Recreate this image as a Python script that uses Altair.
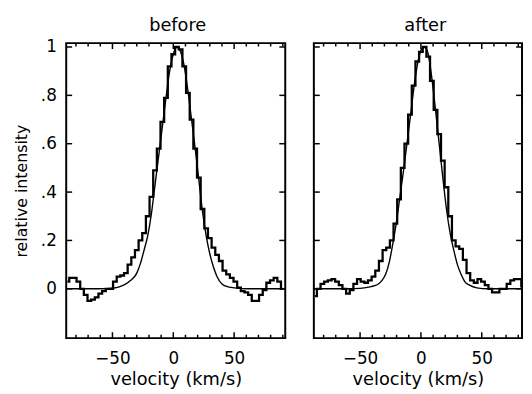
import altair as alt
import pandas as pd

# ---------------- data ----------------
VEL = [-87, -84, -81, -78, -75, -72, -69, -66, -63, -60, -57, -54, -51, -48, -45,
       -42, -39, -36, -33, -30, -27, -24, -21, -18, -15, -12, -9, -6, -3, 0,
       3, 6, 9, 12, 15, 18, 21, 24, 27, 30, 33, 36, 39, 42, 45,
       48, 51, 54, 57, 60, 63, 66, 69, 72, 75, 78, 81, 84, 87, 90]

BEFORE = [0.03, 0.045, 0.045, 0.03, 0.0, -0.025, -0.05, -0.045, -0.035, -0.02, -0.01, 0.0, 0.0, 0.03, 0.05,
          0.055, 0.065, 0.1, 0.13, 0.16, 0.2, 0.23, 0.3, 0.38, 0.49, 0.58, 0.69, 0.79, 0.92, 0.97,
          1.0, 0.99, 0.92, 0.81, 0.7, 0.58, 0.46, 0.33, 0.25, 0.21, 0.17, 0.14, 0.115, 0.075, 0.06,
          0.045, 0.03, 0.005, -0.01, -0.015, -0.025, -0.05, -0.05, -0.025, -0.005, 0.025, 0.035, 0.045, 0.03, 0.0]

AFTER = [-0.03, 0.0, 0.02, 0.03, 0.035, 0.04, 0.03, 0.015, 0.0, -0.02, -0.005, 0.02, 0.04, 0.03, 0.025,
         0.035, 0.05, 0.075, 0.115, 0.16, 0.17, 0.2, 0.27, 0.37, 0.5, 0.6, 0.72, 0.84, 0.94, 0.98,
         1.0, 0.96, 0.86, 0.74, 0.64, 0.53, 0.42, 0.3, 0.2, 0.175, 0.165, 0.12, 0.065, 0.035, 0.025,
         0.04, 0.03, 0.015, 0.0, -0.015, -0.015, 0.0, 0.0, 0.02, 0.035, 0.04, 0.04, 0.01, -0.02, -0.03]

FIT_BEFORE_V = [-88, -60, -50, -45, -40, -35, -30, -27, -24, -21, -18, -15, -12, -9, -6, -3, 0,
                3, 6, 9, 12, 15, 18, 21, 24, 27, 30, 33, 36, 40, 45, 52, 60, 92]
FIT_BEFORE_I = [0, 0, 0.003, 0.007, 0.017, 0.035, 0.065, 0.105, 0.16, 0.22, 0.31, 0.43, 0.55, 0.67, 0.79, 0.9, 0.97,
                1.0, 0.98, 0.92, 0.82, 0.7, 0.58, 0.45, 0.32, 0.22, 0.145, 0.09, 0.05, 0.02, 0.008, 0.003, 0, 0]

FIT_AFTER_V = [-88, -60, -50, -43, -38, -35, -32, -29, -26, -23, -20, -17, -14, -11, -8, -5, -2,
               1, 3, 6, 9, 12, 15, 18, 21, 24, 27, 30, 33, 36, 40, 46, 55, 92]
FIT_AFTER_I = [0, 0, 0.002, 0.007, 0.013, 0.02, 0.035, 0.06, 0.11, 0.19, 0.28, 0.39, 0.5, 0.62, 0.74, 0.86, 0.95,
               0.995, 1.0, 0.97, 0.87, 0.74, 0.6, 0.46, 0.33, 0.23, 0.16, 0.1, 0.06, 0.03, 0.015, 0.004, 0.0, 0.0]

TITLES = ["before", "after"]
Y_TICKS = [0, 0.2, 0.4, 0.6, 0.8, 1.0]
Y_LABELS = ["0", ".2", ".4", ".6", ".8", "1"]
X_MAJOR = [-50, 0, 50]
X_MINOR = [-80, -70, -60, -40, -30, -20, -10, 10, 20, 30, 40, 60, 70, 80, 90]

# ---------------- layout ----------------
H = 299
W_L, W_R = 222, 211
XDOM_L = [-88, 92]
XDOM_R = [-88, 83.1]
YDOM = [-0.204, 1.016]
FONT = "DejaVu Sans"
TITLE_X = W_L / 2 + 2

label_expr = " : ".join(
    [f"datum.value == {v} ? '{l}'" for v, l in zip(Y_TICKS, Y_LABELS)]
) + " : ''"


def panel(title, vel, inten, fv, fi, width, xdom, show_yaxis):
    xs = alt.Scale(domain=xdom, nice=False, zero=False)
    ys = alt.Scale(domain=YDOM, nice=False, zero=False)
    xaxis = alt.Axis(values=X_MAJOR, format="d", ticks=False, tickSize=0, domain=False, grid=False,
                     title="velocity (km/s)", labelPadding=13, titlePadding=4,
                     labelFontSize=17, titleFontSize=18, labelFont=FONT, titleFont=FONT,
                     titleFontWeight="normal", labelColor="black", titleColor="black")
    if show_yaxis:
        yaxis = alt.Axis(values=Y_TICKS, labelExpr=label_expr, ticks=False, tickSize=0, domain=False,
                         grid=False, title="relative intensity", labelPadding=10, titlePadding=11,
                         labelFontSize=17, titleFontSize=16, labelFont=FONT, titleFont=FONT,
                         titleFontWeight="normal", labelColor="black", titleColor="black")
    else:
        yaxis = None
    X = alt.X("v:Q", scale=xs, axis=xaxis)
    Y = alt.Y("I:Q", scale=ys, axis=yaxis)

    hist = alt.Chart(pd.DataFrame({"v": vel, "I": inten})).mark_line(
        interpolate="step", color="black", strokeWidth=2.3, clip=True).encode(x=X, y=Y)
    fit = alt.Chart(pd.DataFrame({"v": fv, "I": fi})).mark_line(
        interpolate="monotone", color="black", strokeWidth=1.4, clip=True).encode(x=X, y=Y)

    ydf = pd.DataFrame({"I": Y_TICKS})
    yt_l = alt.Chart(ydf).mark_rule(color="black", strokeWidth=1.5).encode(
        y=Y, x=alt.value(0), x2=alt.value(6))
    yt_r = alt.Chart(ydf).mark_rule(color="black", strokeWidth=1.5).encode(
        y=Y, x=alt.value(width - 6), x2=alt.value(width))
    mj = pd.DataFrame({"v": X_MAJOR})
    mn = pd.DataFrame({"v": X_MINOR})
    xt_b1 = alt.Chart(mj).mark_rule(color="black", strokeWidth=1.5).encode(
        x=X, y=alt.value(H - 6), y2=alt.value(H))
    xt_b2 = alt.Chart(mn).mark_rule(color="black", strokeWidth=1.5, clip=True).encode(
        x=X, y=alt.value(H - 3.5), y2=alt.value(H))
    xt_t1 = alt.Chart(mj).mark_rule(color="black", strokeWidth=1.5).encode(
        x=X, y=alt.value(0), y2=alt.value(6))
    xt_t2 = alt.Chart(mn).mark_rule(color="black", strokeWidth=1.5, clip=True).encode(
        x=X, y=alt.value(0), y2=alt.value(3.5))

    ttl = alt.Chart(pd.DataFrame({"t": [title]})).mark_text(
        font=FONT, fontSize=18, color="black", baseline="alphabetic", align="center"
    ).encode(text="t:N", x=alt.value(TITLE_X), y=alt.value(-12))

    return alt.layer(fit, hist, yt_l, yt_r, xt_b1, xt_b2, xt_t1, xt_t2, ttl).properties(
        width=width, height=H)


left = panel(TITLES[0], VEL, BEFORE, FIT_BEFORE_V, FIT_BEFORE_I, W_L, XDOM_L, True)
right = panel(TITLES[1], VEL, AFTER, FIT_AFTER_V, FIT_AFTER_I, W_R, XDOM_R, False)

chart = alt.hconcat(left, right, spacing=25).properties(
    padding={"left": 4, "top": 6, "right": 0, "bottom": 0},
    background="white",
).configure_view(stroke="black", strokeWidth=2)

chart.save("out.html", embed_options={"renderer": "svg", "actions": False})
